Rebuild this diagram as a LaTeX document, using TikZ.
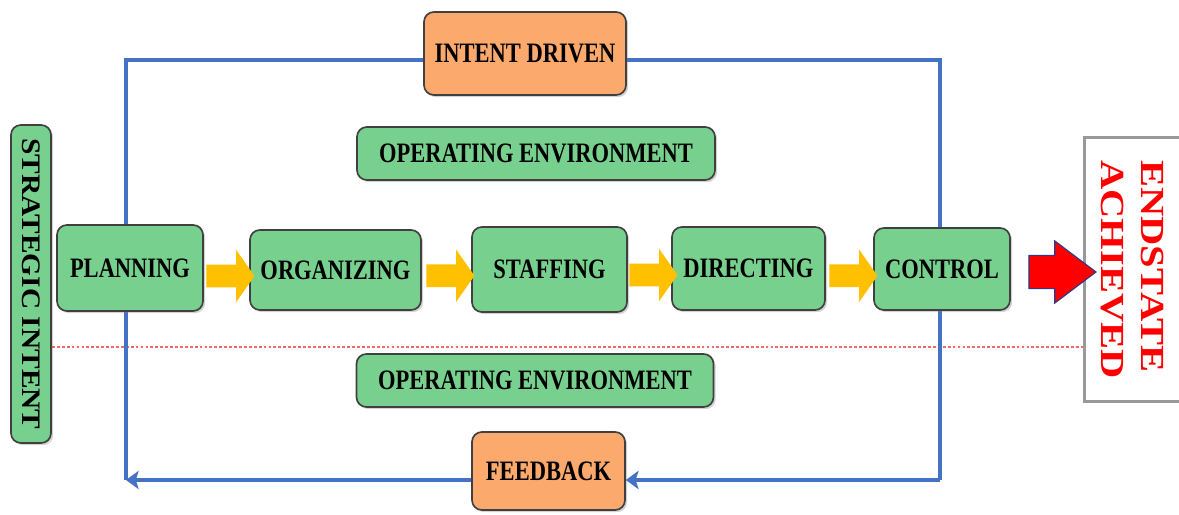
\documentclass[tikz,border=0pt]{standalone}
\usepackage{fontspec}
\setmainfont{Liberation Serif}
\newfontfamily\boxfont{Liberation Serif}[FakeStretch=0.8]
\newfontfamily\sidefont{Liberation Serif}[FakeStretch=1.1]
\newfontfamily\endfont{Liberation Serif}[FakeStretch=1.2]
\usepackage{xcolor}
\usepackage{tikz}
\usetikzlibrary{shapes.arrows, arrows.meta, positioning, calc, shadows}

\definecolor{boxgreen}{HTML}{78D08E}
\definecolor{boxorange}{HTML}{FBA96C}
\definecolor{loopblue}{HTML}{4472C4}
\definecolor{arrowyellow}{HTML}{FFC000}
\definecolor{dashred}{HTML}{F26A6A}
\definecolor{arrowrim}{HTML}{2E3A87}

\newcommand{\pxl}{0.025cm}

\tikzset{
	stage/.style={draw=black!75, line width=1.2pt, rounded corners=7pt, fill=boxgreen,
		drop shadow={shadow xshift=1.5pt, shadow yshift=-1.5pt, opacity=0.35},
		font=\boxfont\bfseries\fontsize{20}{24}\selectfont, inner sep=0pt, align=center},
	orangebox/.style={stage, fill=boxorange},
	sidebox/.style={stage, rotate=-90, font=\sidefont\bfseries\fontsize{19}{22}\selectfont},
	endbox/.style={rotate=-90, fill=white, inner sep=0pt, align=left, text=red,
		font=\endfont\bfseries\fontsize{24}{28.5}\selectfont},
	endframe/.style={draw=gray!80, line width=2.5pt},
	yarrow/.style={single arrow, fill=arrowyellow, draw=none, inner xsep=0pt, inner ysep=11*\pxl,
		single arrow head extend=15*\pxl, single arrow tip angle=110, minimum height=48*\pxl},
	redarrow/.style={single arrow, fill=red, draw=arrowrim, line width=0.8pt, inner xsep=0pt, inner ysep=16*\pxl,
		single arrow head extend=14.5*\pxl, single arrow tip angle=74, minimum height=67*\pxl},
	loopline/.style={draw=loopblue, line width=2.6pt},
	looptip/.style={-{Stealth[length=9pt, width=13pt, inset=2pt]}},
	dashline/.style={draw=dashred, line width=0.8pt, dash pattern=on 2pt off 1.5pt}
}

\begin{document}
\begin{tikzpicture}[x=0.025cm, y=-0.025cm]
	\useasboundingbox (0,0) rectangle (1179,514);

	% loop corners and dashed divider
	\coordinate (tl) at (126,60);
	\coordinate (tr) at (940,60);
	\coordinate (br) at (940,480);
	\coordinate (bl) at (126,480);
	\coordinate (dl) at (52,347);
	\coordinate (dr) at (1085,347);

	\draw[dashline] (dl) -- (dr);
	\draw[loopline] (bl) -- (tl) -- (tr) -- (br);

	% top and bottom boxes
	\node[orangebox, minimum width=202*\pxl, minimum height=83*\pxl] (intent) at (525,53.5) {INTENT DRIVEN};
	\node[stage, minimum width=358*\pxl, minimum height=53*\pxl] (envtop) at (536,153.5) {OPERATING ENVIRONMENT};
	\node[stage, minimum width=357*\pxl, minimum height=53*\pxl] (envbot) at (535,380.5) {OPERATING ENVIRONMENT};
	\node[orangebox, minimum width=153*\pxl, minimum height=78*\pxl] (fb) at (548.5,471) {FEEDBACK};

	% feedback arrows
	\draw[loopline, looptip] (br) -- (br -| fb.east);
	\draw[loopline, looptip] (bl -| fb.west) -- (bl);

	% process chain
	\node[stage, minimum width=146*\pxl, minimum height=86*\pxl] (plan) at (130,268) {PLANNING};
	\node[stage, minimum width=171*\pxl, minimum height=80*\pxl] (org) at (335.5,270) {ORGANIZING};
	\node[stage, minimum width=155*\pxl, minimum height=85*\pxl] (staff) at (549.5,269.5) {STAFFING};
	\node[stage, minimum width=153*\pxl, minimum height=83*\pxl] (dir) at (748.5,268.5) {DIRECTING};
	\node[stage, minimum width=136*\pxl, minimum height=82*\pxl] (ctrl) at (942,269) {CONTROL};

	\node[yarrow] (a1) at ($(plan.east)!0.5!(org.west)+(0,7)$) {};
	\node[yarrow] (a2) at ($(org.east)!0.5!(staff.west)+(0,6)$) {};
	\node[yarrow] (a3) at ($(staff.east)!0.5!(dir.west)+(0,6)$) {};
	\node[yarrow] (a4) at ($(dir.east)!0.5!(ctrl.west)+(0,7)$) {};

	% side boxes
	\node[sidebox, minimum width=318*\pxl, minimum height=40*\pxl] (si) at (31,284) {STRATEGIC INTENT};
	\node[endbox, minimum width=263*\pxl, minimum height=94*\pxl, xshift=6*\pxl] (es) at (1132,263.5) {ENDSTATE\\ACHIEVED};
	\draw[endframe] (es.north west) -- (es.south west) -- (es.south east) -- (es.north east);
	\node[redarrow] (ra) at (1051.5,272) {};

\end{tikzpicture}
\end{document}
